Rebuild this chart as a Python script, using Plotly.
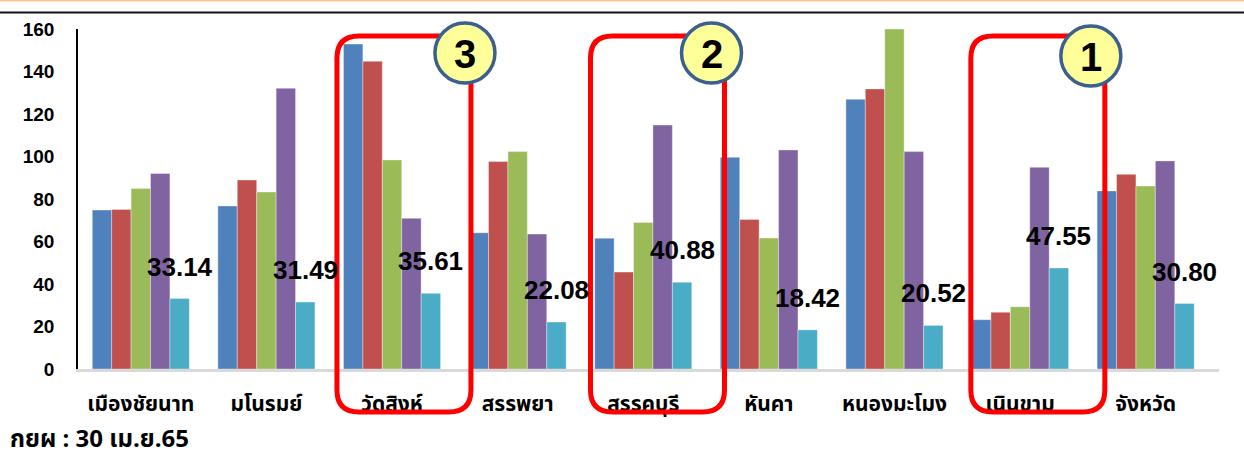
import plotly.graph_objects as go

# ---------------- data ----------------
categories = ["เมืองชัยนาท", "มโนรมย์", "วัดสิงห์", "สรรพยา", "สรรคบุรี",
              "หันคา", "หนองมะโมง", "เนินขาม", "จังหวัด"]
series1 = [74.8, 76.7, 152.9, 64.1, 61.5, 99.6, 126.9, 23.2, 83.8]
series2 = [75.1, 88.9, 144.8, 97.6, 45.6, 70.4, 131.8, 26.7, 91.6]
series3 = [85.0, 83.3, 98.4, 102.3, 69.0, 61.6, 160.0, 29.3, 86.1]
series4 = [92.0, 132.1, 70.9, 63.5, 114.8, 103.1, 102.3, 94.9, 97.9]
series5 = [33.14, 31.49, 35.61, 22.08, 40.88, 18.42, 20.52, 47.55, 30.80]
y_ticks = [0, 20, 40, 60, 80, 100, 120, 140, 160]
highlight_idx = [7, 4, 2]          # categories ringed in red
highlight_rank = ["1", "2", "3"]
footer_text = "กยผ : 30 เม.ย.65"

colors = ["#4F81BD", "#C0504D", "#9BBB59", "#8064A2", "#4BACC6"]
all_series = [series1, series2, series3, series4, series5]

# ---------------- layout geometry ----------------
W, H = 1244, 459
ML, MR, MT, MB = 78, 25, 29, 90
PW, PH = W - ML - MR, H - MT - MB
BARGAP = 0.227
NBAR = 5

# decoration placement (pixels, relative to group centre)
rect_left_off, rect_right_off, rect_top, rect_bottom, rect_r = -58, 76, 36, 412, 22
badge_dx = [-14, -13, -6]
badge_y = [56, 53, 53]
badge_r = 30

def px_x(px):
    return (px - ML) / PW

def px_y(py):
    return (H - MB - py) / PH

thai_font = "Noto Sans Thai, Tahoma, Noto Sans, sans-serif"
latin_font = "Liberation Sans, Arial, sans-serif"

fig = go.Figure()
for s, c in zip(all_series, colors):
    fig.add_trace(go.Bar(x=categories, y=s,
                         marker=dict(color=c, line=dict(width=0.6, color="rgba(255,255,255,0.6)")),
                         showlegend=False, cliponaxis=False))

# data labels over the last series (cyan) bars
bar_w = (1 - BARGAP) / NBAR
for i, v in enumerate(series5):
    fig.add_annotation(x=i + 2 * bar_w, y=v, xref="x", yref="y", text=f"{v:.2f}",
                       showarrow=False, yshift=32, yanchor="middle", xanchor="center",
                       font=dict(family=latin_font, size=26, color="black", weight="bold"))

# ---------------- decorations ----------------
shapes = []
shapes.append(dict(type="line", xref="paper", yref="paper", x0=px_x(0), x1=px_x(W), y0=px_y(0.5), y1=px_y(0.5),
                   line=dict(color="#F9C38A", width=2), layer="above"))
shapes.append(dict(type="line", xref="paper", yref="paper", x0=px_x(0), x1=px_x(W), y0=px_y(12.5), y1=px_y(12.5),
                   line=dict(color="#111111", width=2), layer="above"))

def rounded_rect(x0, y0, x1, y1, r):
    def P(x, y):
        return f"{px_x(x):.5f},{px_y(y):.5f}"
    return (f"M {P(x0 + r, y0)} L {P(x1 - r, y0)} Q {P(x1, y0)} {P(x1, y0 + r)} "
            f"L {P(x1, y1 - r)} Q {P(x1, y1)} {P(x1 - r, y1)} "
            f"L {P(x0 + r, y1)} Q {P(x0, y1)} {P(x0, y1 - r)} "
            f"L {P(x0, y0 + r)} Q {P(x0, y0)} {P(x0 + r, y0)} Z")

group_w = PW / len(categories)
badges = []
for k, (idx, rank) in enumerate(zip(highlight_idx, highlight_rank)):
    cx = ML + (idx + 0.5) * group_w
    left = cx + rect_left_off
    right = cx + rect_right_off
    shapes.append(dict(type="path", xref="paper", yref="paper",
                       path=rounded_rect(left, rect_top, right, rect_bottom, rect_r),
                       line=dict(color="#FF0000", width=5), fillcolor="rgba(0,0,0,0)", layer="above"))
    badges.append((right + badge_dx[k], badge_y[k], rank))

for (ccx, ccy, rank) in badges:
    r = badge_r
    shapes.append(dict(type="circle", xref="paper", yref="paper",
                       x0=px_x(ccx - r), x1=px_x(ccx + r), y0=px_y(ccy + r), y1=px_y(ccy - r),
                       line=dict(color="#3B5F8E", width=3.5), fillcolor="#FFFF99", layer="above"))
    fig.add_annotation(x=px_x(ccx), y=px_y(ccy + 1), xref="paper", yref="paper", text=rank, showarrow=False,
                       xanchor="center", yanchor="middle",
                       font=dict(family=latin_font, size=40, color="black", weight="bold"))

fig.add_annotation(x=px_x(8), y=px_y(440), xref="paper", yref="paper", text=footer_text, showarrow=False,
                   xanchor="left", yanchor="middle",
                   font=dict(family=thai_font, size=24, color="black", weight="bold"))

fig.update_layout(
    width=W, height=H,
    margin=dict(l=ML, r=MR, t=MT, b=MB),
    barmode="group", bargap=BARGAP, bargroupgap=0,
    plot_bgcolor="white", paper_bgcolor="white",
    shapes=shapes,
    showlegend=False,
)
fig.update_xaxes(showgrid=False, showline=True, linecolor="#D9D9D9", linewidth=2.5, ticks="",
                 tickfont=dict(family=thai_font, size=21, color="black", weight="bold"),
                 ticklabelstandoff=14)
fig.update_yaxes(range=[0, 160], tickvals=y_ticks, showgrid=False, zeroline=False, showline=True,
                 linecolor="black", linewidth=1.5, ticks="",
                 tickfont=dict(family=latin_font, size=19, color="black", weight="bold"),
                 ticklabelstandoff=18)

fig.write_html("out.html")
